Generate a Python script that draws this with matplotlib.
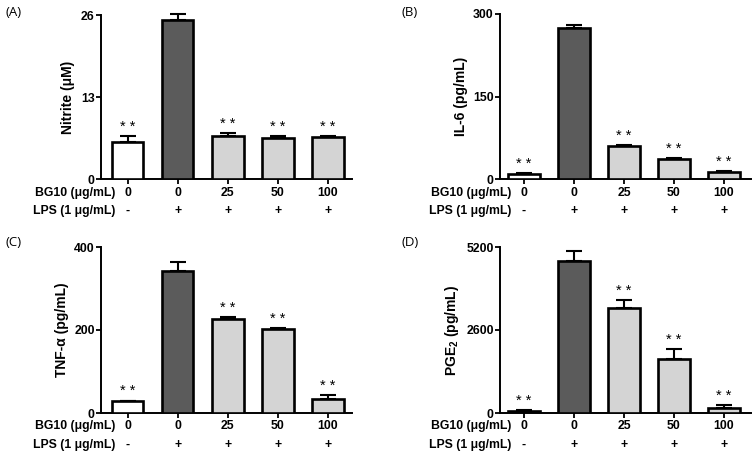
import matplotlib
matplotlib.use("Agg")
import matplotlib.pyplot as plt
import numpy as np

plt.rcParams['font.family'] = ['Liberation Sans', 'DejaVu Sans']
plt.rcParams['mathtext.fontset'] = 'custom'
plt.rcParams['mathtext.rm'] = 'Liberation Sans:bold'
plt.rcParams['mathtext.bf'] = 'Liberation Sans:bold'
plt.rcParams['mathtext.it'] = 'Liberation Sans:bold'

bg10_labels = ["0", "0", "25", "50", "100"]
lps_labels = ["-", "+", "+", "+", "+"]
stars = ["**", "", "**", "**", "**"]

nitrite_mean = [5.9, 25.2, 6.8, 6.5, 6.7]
nitrite_err = [1.0, 0.95, 0.5, 0.3, 0.1]
il6_mean = [10, 274, 60, 36, 13.5]
il6_err = [1, 6, 3, 3, 1]
tnf_mean = [29, 341, 227, 202, 34]
tnf_err = [1, 22, 4, 3, 10]
pge2_mean = [55, 4752, 3290, 1701, 157]
pge2_err = [30, 310, 260, 300, 85]

colors = ["#ffffff", "#5b5b5b", "#d4d4d4", "#d4d4d4", "#d4d4d4"]

W, H = 755, 457
fig = plt.figure(figsize=(W / 100, H / 100), dpi=100)

def ax_rect(left, right, top, bottom):
    return [left / W, 1 - bottom / H, (right - left) / W, (bottom - top) / H]

panels = [
    dict(rect=ax_rect(101, 352, 15, 179.3), mean=nitrite_mean, err=nitrite_err,
         ylim=26, ticks=[0, 13, 26], ylabel="Nitrite (μM)", tag="(A)", tagpos=(5, 12),
         xlim=(-0.53, 4.48)),
    dict(rect=ax_rect(500, 751, 14, 179.3), mean=il6_mean, err=il6_err,
         ylim=300, ticks=[0, 150, 300], ylabel="IL-6 (pg/mL)", tag="(B)", tagpos=(402, 12),
         xlim=(-0.48, 4.54)),
    dict(rect=ax_rect(101, 352, 247, 413), mean=tnf_mean, err=tnf_err,
         ylim=400, ticks=[0, 200, 400], ylabel="TNF-α (pg/mL)", tag="(C)", tagpos=(5, 243),
         xlim=(-0.53, 4.48)),
    dict(rect=ax_rect(500, 751, 247, 413), mean=pge2_mean, err=pge2_err,
         ylim=5200, ticks=[0, 2600, 5200], ylabel=r"PGE$_2$ (pg/mL)", tag="(D)", tagpos=(402, 243),
         xlim=(-0.48, 4.54)),
]

fs = 8.8
x = np.arange(5)
for p in panels:
    ax = fig.add_axes(p["rect"])
    ax.bar(x, p["mean"], width=0.63, color=colors, edgecolor="black", linewidth=1.9, zorder=3)
    ax.errorbar(x, p["mean"], yerr=[np.zeros(5), p["err"]], fmt="none", ecolor="black",
                elinewidth=1.5, capsize=6, capthick=1.5, zorder=2, clip_on=False)
    for i in range(5):
        if stars[i]:
            ax.annotate("* *", xy=(x[i], p["mean"][i] + p["err"][i]), xytext=(0, 1.5),
                        textcoords="offset points", ha="center", va="bottom",
                        fontsize=10.5, annotation_clip=False)
    ax.set_xlim(*p["xlim"])
    ax.set_ylim(0, p["ylim"])
    ax.set_yticks(p["ticks"])
    ax.set_yticklabels([str(t) for t in p["ticks"]], fontweight="bold", fontsize=fs)
    ax.set_xticks(x)
    ax.set_xticklabels([])
    ax.tick_params(axis="x", length=3.5, width=1.3, direction="out")
    ax.tick_params(axis="y", length=3.5, width=1.3, direction="out", pad=1)
    for s in ["top", "right"]:
        ax.spines[s].set_visible(False)
    for s in ["left", "bottom"]:
        ax.spines[s].set_linewidth(1.4)
    ax.set_ylabel(p["ylabel"], fontweight="bold", fontsize=10, labelpad=4)
    for i in range(5):
        ax.annotate(bg10_labels[i], xy=(x[i], 0), xycoords=("data", "axes fraction"),
                    xytext=(0, -9.6), textcoords="offset points", ha="center", va="center",
                    fontsize=fs, fontweight="bold", annotation_clip=False)
        ax.annotate(lps_labels[i], xy=(x[i], 0), xycoords=("data", "axes fraction"),
                    xytext=(0, -22.8), textcoords="offset points", ha="center", va="center",
                    fontsize=fs, fontweight="bold", annotation_clip=False)
    ax.annotate("BG10 (μg/mL)", xy=(-0.25, 0), xycoords=("data", "axes fraction"),
                xytext=(0, -9.6), textcoords="offset points", ha="right", va="center",
                fontsize=fs, fontweight="bold", annotation_clip=False)
    ax.annotate("LPS (1 μg/mL)", xy=(-0.25, 0), xycoords=("data", "axes fraction"),
                xytext=(0, -22.8), textcoords="offset points", ha="right", va="center",
                fontsize=fs, fontweight="bold", annotation_clip=False)
    fig.text(p["tagpos"][0] / W, 1 - p["tagpos"][1] / H, p["tag"], fontsize=9.5,
             family=["Open Sans", "DejaVu Sans"], ha="left", va="center")

fig.savefig("out.png", dpi=100)
